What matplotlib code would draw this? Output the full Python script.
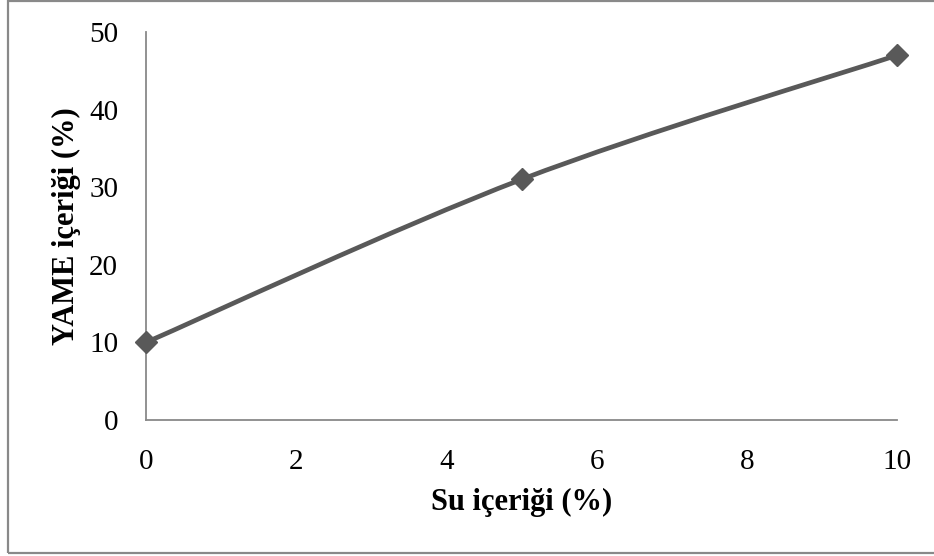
import matplotlib.pyplot as plt
from matplotlib.path import Path
from matplotlib.patches import PathPatch, Rectangle
import numpy as np

water = [0, 5, 10]
fame = [10, 31, 47]
xticks = [0, 2, 4, 6, 8, 10]
yticks = [0, 10, 20, 30, 40, 50]

plt.rcParams['font.family'] = ['Liberation Serif', 'DejaVu Serif']

LINE = '#595959'
AXIS = '#898989'


def smooth_path(xs, ys):
    # Bezier segments through the points, control points like a spreadsheet "smoothed line"
    pts = np.column_stack([xs, ys]).astype(float)
    n = len(pts)
    verts = [pts[0]]
    codes = [Path.MOVETO]
    for i in range(n - 1):
        p0 = pts[max(i - 1, 0)]
        p1 = pts[i]
        p2 = pts[i + 1]
        p3 = pts[min(i + 2, n - 1)]
        c1 = p1 + (p2 - p0) / 6.0
        c2 = p2 - (p3 - p1) / 6.0
        verts += [c1, c2, p2]
        codes += [Path.CURVE4] * 3
    return Path(verts, codes)


fig = plt.figure(figsize=(9.34, 5.56), dpi=100)
ax = fig.add_axes([146 / 934, 1 - 420 / 556, (897 - 146) / 934, (420 - 32) / 556])

ax.add_patch(PathPatch(smooth_path(water, fame), facecolor='none', edgecolor=LINE,
                       lw=3.4, capstyle='round', joinstyle='round', zorder=3))
ax.plot(water, fame, linestyle='none', marker='D', markersize=11,
        color=LINE, zorder=4, clip_on=False)

ax.set_xlim(0, 10)
ax.set_ylim(0, 50)
ax.set_xticks(xticks)
ax.set_yticks(yticks)
ax.tick_params(length=0, labelsize=21)
ax.tick_params(axis='y', pad=20)
ax.tick_params(axis='x', pad=21)

for side in ['top', 'right']:
    ax.spines[side].set_visible(False)
for side in ['left', 'bottom']:
    ax.spines[side].set_color(AXIS)
    ax.spines[side].set_linewidth(1.3)

ax.set_xlabel('Su içeriği (%)', fontsize=22, fontweight='bold', labelpad=9)
ax.set_ylabel('YAME içeriği (%)', fontsize=22, fontweight='bold', labelpad=6)

# outer frame around the chart area
fig.patches.append(Rectangle((8 / 934, 1 - 553 / 556), 1.0, (553 - 1) / 556,
                             transform=fig.transFigure, fill=False,
                             edgecolor=AXIS, lw=1.6))

fig.savefig('out.png', dpi=100)
